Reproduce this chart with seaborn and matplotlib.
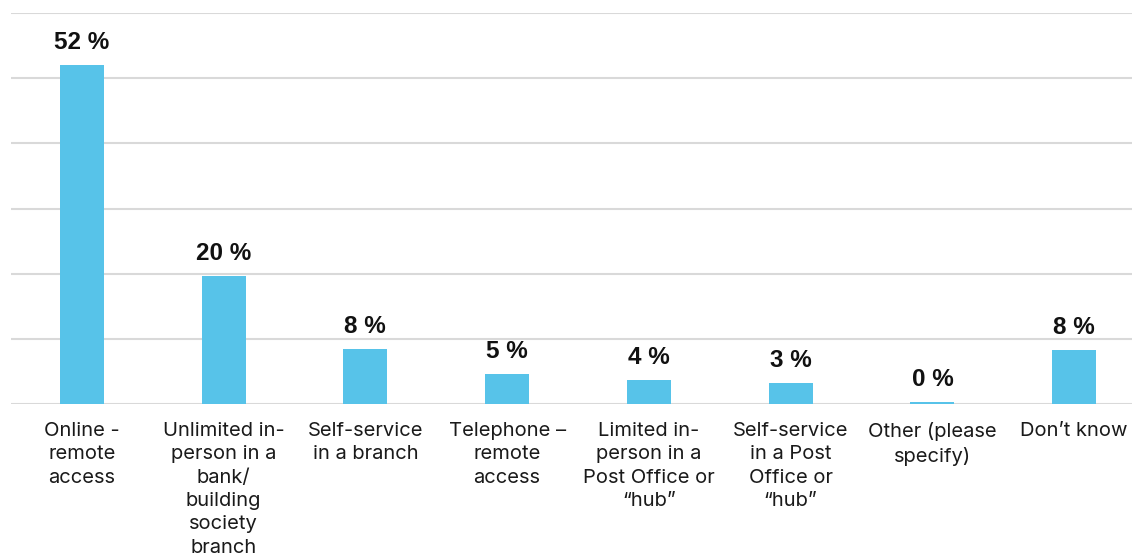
import matplotlib
matplotlib.use("Agg")
import matplotlib.pyplot as plt
import seaborn as sns
import pandas as pd

categories = [
    "Online -\nremote\naccess",
    "Unlimited in-\nperson in a\nbank/\nbuilding\nsociety\nbranch",
    "Self-service\nin a branch",
    "Telephone –\nremote\naccess",
    "Limited in-\nperson in a\nPost Office or\n“hub”",
    "Self-service\nin a Post\nOffice or\n“hub”",
    "Other (please\nspecify)",
    "Don’t know",
]
shares = [52.0, 19.7, 8.4, 4.6, 3.7, 3.2, 0.3, 8.3]
y_ticks = [0, 10, 20, 30, 40, 50, 60]

df = pd.DataFrame({"category": categories, "share": shares})

sns.set_theme(style="white")
plt.rcParams["font.family"] = ["Inter", "DejaVu Sans"]

fig = plt.figure(figsize=(11.32, 5.6), dpi=100)
ax = fig.add_axes([11 / 1132, 156 / 560, 1134 / 1132, 391 / 560])

sns.barplot(data=df, x="category", y="share", color="#57C3E9",
            width=0.31, saturation=1, linewidth=0, ax=ax, zorder=3)

ax.set_ylim(0, 60)
ax.set_yticks(y_ticks)
ax.yaxis.grid(True, color="#d9d9d9", linewidth=1.5, zorder=0)
ax.set_axisbelow(True)
ax.tick_params(axis="y", left=False, labelleft=False)
ax.tick_params(axis="x", bottom=False, pad=7, labelsize=14.5, labelcolor="#1a1a1a")
for lab in ax.get_xticklabels():
    lab.set_linespacing(1.38)
    lab.set_verticalalignment("top")
ax.set_xlabel("")
ax.set_ylabel("")
for s in ax.spines.values():
    s.set_visible(False)
ax.set_xlim(-0.5, len(categories) - 0.5)

for i, v in enumerate(shares):
    ax.annotate(f"{v:.0f} %", (i, v), xytext=(0, 11.5), textcoords="offset points",
                ha="center", va="baseline", fontsize=17.5, fontweight="bold",
                family=["Liberation Sans", "DejaVu Sans"], color="#111111")

fig.savefig("out.png", dpi=100)
